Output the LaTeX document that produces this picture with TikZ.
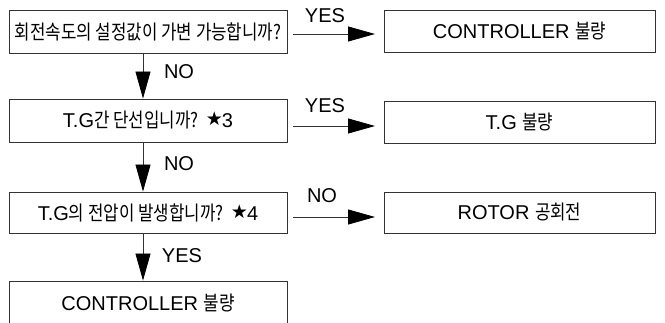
\documentclass[tikz,border=0pt]{standalone}
\usepackage{fontspec}
\setmainfont{Liberation Sans}
\newfontfamily\kr[FakeStretch=0.84]{Noto Sans CJK KR}
\newfontfamily\sym{DejaVu Sans}
\usetikzlibrary{arrows.meta,calc}
\newcommand{\K}[1]{{\kr\fontsize{20}{22}\selectfont #1}}
\newcommand{\st}[1]{\raisebox{2pt}{\sym\fontsize{19}{19}\selectfont ★}\kern-1pt#1}
\begin{document}
\begin{tikzpicture}[x=1pt,y=-1pt,
  box/.style={draw=black!80,line width=0.9pt,inner sep=0pt,font=\fontsize{20}{22}\selectfont},
  lbox/.style={box,minimum width=278pt},
  rbox/.style={box,minimum width=271pt},
  arr/.style={draw=black!80,line width=0.8pt,-{Triangle[length=27pt,width=15pt,color=black,fill=black]}},
  lab/.style={font=\fontsize{20}{22}\selectfont,inner sep=0pt}]
\useasboundingbox (0,0) rectangle (665,322);
\clip (0,0) rectangle (665,322);
\node[lbox,minimum height=43pt] (b1) at (148,31.5) {\K{회전속도의 설정값이 가변 가능합니까?}};
\node[lbox,minimum height=43pt] (b2) at (148,120.5) {T.G\K{간 단선입니까?} \st{3}};
\node[lbox,minimum height=41pt] (b3) at (148,212.5) {T.G\K{의 전압이 발생합니까?} \st{4}};
\node[lbox,minimum height=44pt] (b4) at (148,303) {CONTROLLER \K{불량}};
\node[rbox,minimum height=42pt] (r1) at (519.5,31) {CONTROLLER \K{불량}};
\node[rbox,minimum height=42pt] (r2) at (519.5,122) {T.G \K{불량}};
\node[rbox,minimum height=41pt] (r3) at (519.5,212.5) {ROTOR \K{공회전}};
% horizontal arrows
\coordinate (h1s) at (293,34); \coordinate (h1e) at (375,34);
\coordinate (h2s) at (293,126); \coordinate (h2e) at (375,126);
\coordinate (h3s) at (293,217); \coordinate (h3e) at (375,217);
\draw[arr] (h1s) -- (h1e);
\draw[arr] (h2s) -- (h2e);
\draw[arr] (h3s) -- (h3e);
\node[lab] at (325,16) {YES};
\node[lab] at (325,106) {YES};
\node[lab] at (322,196) {NO};
% vertical arrows
\draw[arr] (b1.south -| 143,0) -- (b2.north -| 143,0);
\draw[arr] (b2.south -| 143,0) -- (b3.north -| 143,0);
\draw[arr] (b3.south -| 143,0) -- (b4.north -| 143,0);
\node[lab] at (179,72) {NO};
\node[lab] at (179,164) {NO};
\node[lab] at (182,256) {YES};
\end{tikzpicture}
\end{document}
